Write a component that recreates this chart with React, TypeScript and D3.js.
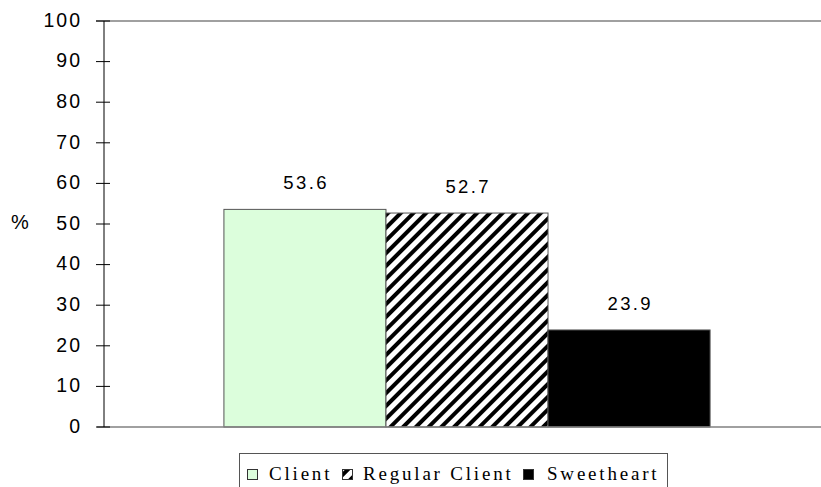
import React, { useEffect, useRef } from 'react';
import * as d3 from 'd3';

const series = ['Client', 'Regular Client', 'Sweetheart'];
const values = [53.6, 52.7, 23.9];
const yTicks = [0, 10, 20, 30, 40, 50, 60, 70, 80, 90, 100];

const W = 821;
const H = 487;

const App: React.FC = () => {
  const svgRef = useRef<SVGSVGElement>(null);

  useEffect(() => {
    if (!svgRef.current) return;
    const svg = d3.select(svgRef.current);
    svg.selectAll('*').remove();

    const plot = { left: 104, right: 830, top: 21, bottom: 427 };
    const sans = 'Arial, "Liberation Sans", sans-serif';

    const y = d3.scaleLinear().domain([0, 100]).range([plot.bottom, plot.top]);
    const x = d3.scaleBand<string>()
      .domain(series)
      .range([plot.left, plot.right])
      .paddingInner(0)
      .paddingOuter(0.74);

    // hatch pattern
    const defs = svg.append('defs');
    const pat = defs.append('pattern')
      .attr('id', 'hatch')
      .attr('patternUnits', 'userSpaceOnUse')
      .attr('width', 9)
      .attr('height', 9)
      .attr('patternTransform', 'rotate(45)');
    pat.append('rect').attr('width', 9).attr('height', 9).attr('fill', '#fff');
    pat.append('rect').attr('width', 4).attr('height', 9).attr('fill', '#000');

    const fills = ['#dcfedc', 'url(#hatch)', '#000'];

    // top frame line
    svg.append('line')
      .attr('x1', 96).attr('x2', W)
      .attr('y1', plot.top).attr('y2', plot.top)
      .attr('stroke', '#808080').attr('stroke-width', 1.5);

    // bars
    svg.selectAll('.bar')
      .data(values)
      .enter()
      .append('rect')
      .attr('class', 'bar')
      .attr('x', (_, i) => x(series[i])!)
      .attr('y', d => y(d))
      .attr('width', x.bandwidth())
      .attr('height', d => y(0) - y(d))
      .attr('fill', (_, i) => fills[i])
      .attr('stroke', '#555')
      .attr('stroke-width', 1);

    // value labels
    svg.selectAll('.lbl')
      .data(values)
      .enter()
      .append('text')
      .attr('x', (_, i) => x(series[i])! + x.bandwidth() / 2 + 1.2)
      .attr('y', d => y(d) - 20)
      .attr('text-anchor', 'middle')
      .style('font-family', sans)
      .style('font-size', '18.5px')
      .style('letter-spacing', '2.4px')
      .attr('fill', '#000')
      .text(d => d.toFixed(1));

    // baseline
    svg.append('line')
      .attr('x1', 97).attr('x2', W)
      .attr('y1', plot.bottom).attr('y2', plot.bottom)
      .attr('stroke', '#808080').attr('stroke-width', 1.5);

    // y axis
    const ax = svg.append('g');
    ax.append('line')
      .attr('x1', plot.left).attr('x2', plot.left)
      .attr('y1', plot.top).attr('y2', plot.bottom)
      .attr('stroke', '#000').attr('stroke-width', 1);
    ax.selectAll('.tick')
      .data(yTicks)
      .enter()
      .append('line')
      .attr('x1', 96).attr('x2', 110)
      .attr('y1', d => y(d)).attr('y2', d => y(d))
      .attr('stroke', '#000').attr('stroke-width', 1);
    ax.selectAll('.tl')
      .data(yTicks)
      .enter()
      .append('text')
      .attr('x', 82)
      .attr('y', d => y(d))
      .attr('dy', '0.3em')
      .attr('text-anchor', 'end')
      .style('font-family', sans)
      .style('font-size', '19.5px')
      .style('letter-spacing', '2px')
      .text(d => String(d));

    svg.append('text')
      .attr('x', 20)
      .attr('y', 229)
      .attr('text-anchor', 'middle')
      .style('font-family', sans)
      .style('font-size', '20px')
      .text('%');

    // legend
    const lg = svg.append('g');
    lg.append('rect')
      .attr('x', 239.5).attr('y', 453.5)
      .attr('width', 428).attr('height', 60)
      .attr('fill', '#fff')
      .attr('stroke', '#555').attr('stroke-width', 1);

    const swatchX = [247, 342, 523];
    const textX = [269, 363, 547];
    series.forEach((s, i) => {
      lg.append('rect')
        .attr('x', swatchX[i] + 0.5).attr('y', 469.5)
        .attr('width', 10).attr('height', 10)
        .attr('fill', i === 1 ? 'url(#hatch)' : fills[i])
        .attr('stroke', '#333').attr('stroke-width', 1);
      lg.append('text')
        .attr('x', textX[i])
        .attr('y', 480)
        .style('font-family', '"Liberation Serif", "Times New Roman", serif')
        .style('font-size', '19px')
        .style('letter-spacing', '2.8px')
        .text(s);
    });
  }, []);

  return (
    <div style={{ position: 'fixed', left: 0, top: 0, width: W, height: H, background: '#fff' }}>
      <svg ref={svgRef} width={W} height={H} style={{ display: 'block' }} />
    </div>
  );
};

export default App;
